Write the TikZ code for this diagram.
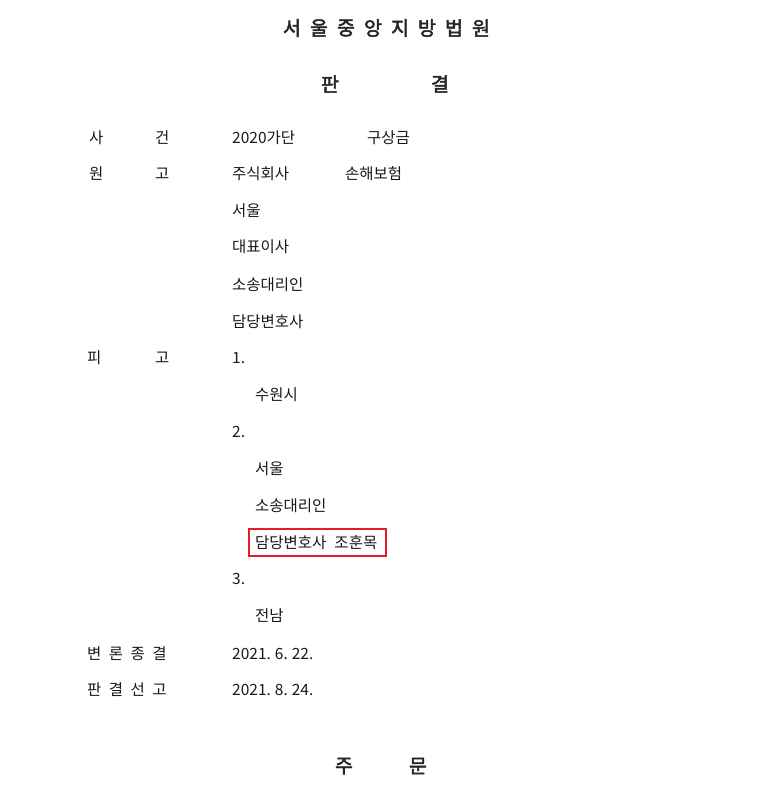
\documentclass[tikz,border=0pt]{standalone}
\usepackage{fontspec}
\setmainfont{Noto Sans CJK KR}
\newfontfamily\kr{Noto Sans CJK KR}
\newfontfamily\krb{Noto Sans CJK KR}[FakeBold=2.5]
\begin{document}
\begin{tikzpicture}[x=1pt,y=-1pt,
  txt/.style={anchor=west,inner sep=0pt,font=\kr\fontsize{15.5}{17}\selectfont,text=black!90},
  ttl/.style={anchor=center,inner sep=0pt,font=\krb\fontsize{19.5}{21}\selectfont,text=black!85},
  redbox/.style={draw={rgb,255:red,228;green,30;blue,40},line width=2.8pt}]
\useasboundingbox[fill=white] (0,0) rectangle (768,804);
% title
\foreach \c [count=\i] in {서,울,중,앙,지,방,법,원}
  \node[ttl] (t\i) at ({292+(\i-1)*27},28) {\c};
\node[ttl] (pan) at (330,84) {판};
\node[ttl] (gyeol) at (440,84) {결};
% labels
\node[txt] (l1a) at (89,138) {사}; \node[txt] (l1b) at (155,138) {건};
\node[txt] (l2a) at (89,174) {원}; \node[txt] (l2b) at (155,174) {고};
\node[txt] (l3a) at (87,358) {피}; \node[txt] (l3b) at (155,358) {고};
\foreach \c [count=\i] in {변,론,종,결}
  \node[txt] (b\i) at ({87+(\i-1)*21.7},654) {\c};
\foreach \c [count=\i] in {판,결,선,고}
  \node[txt] (p\i) at ({87+(\i-1)*21.7},690) {\c};
% values
\node[txt] (case) at (232,138) {2020가단};
\node[txt] (gu) at (367,138) {구상금};
\node[txt] (co) at (232,174) {주식회사};
\node[txt] (son) at (345,174) {손해보험};
\node[txt] (se1) at (232,211) {서울};
\node[txt] (dae) at (232,247) {대표이사};
\node[txt] (so1) at (232,285) {소송대리인};
\node[txt] (dam1) at (232,322) {담당변호사};
\node[txt] (n1) at (232,358) {1.};
\node[txt] (su) at (255,395) {수원시};
\node[txt] (n2) at (232,432) {2.};
\node[txt] (se2) at (255,469) {서울};
\node[txt] (so2) at (255,506) {소송대리인};
\node[txt] (dam2) at (255,543) {담당변호사\hspace{8pt}조훈목};
\node[txt] (n3) at (232,579) {3.};
\node[txt] (jn) at (255,616) {전남};
\node[txt] (d1) at (232,654) {2021.\hspace{4pt}6.\hspace{4pt}22.};
\node[txt] (d2) at (232,690) {2021.\hspace{4pt}8.\hspace{4pt}24.};
% red box
\draw[redbox] (249,529) rectangle (386,556);
% bottom heading
\node[ttl] (ju) at (344,766) {주};
\node[ttl] (mun) at (418,766) {문};
\end{tikzpicture}
\end{document}
